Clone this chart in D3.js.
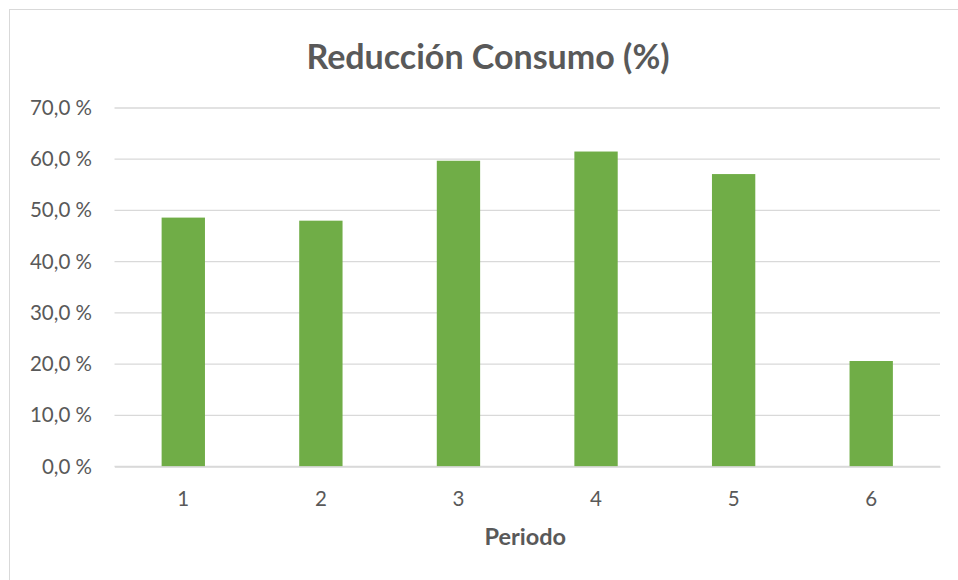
<!DOCTYPE html>
<html>
<head>
<meta charset="utf-8">
<script src="https://cdnjs.cloudflare.com/ajax/libs/d3/7.8.5/d3.min.js"></script>
<style>
  body { margin: 0; background: #fff; }
  text { font-family: Lato, "Open Sans", sans-serif; fill: #595959; }
</style>
</head>
<body>
<div class="graph"></div>
<script>
var periods = ["1", "2", "3", "4", "5", "6"];
var reduction = [48.6, 48.0, 59.7, 61.5, 57.1, 20.6];
var yTicks = [0, 10, 20, 30, 40, 50, 60, 70];

var width = 958,
    height = 580;

var margin = { left: 114.5, right: 18, top: 108, bottom: 113.5 };

var svg = d3.select(".graph").append("svg")
    .attr("width", width)
    .attr("height", height);

// chart frame
svg.append("rect")
    .attr("x", 9.5)
    .attr("y", 9.5)
    .attr("width", 970)
    .attr("height", 600)
    .attr("fill", "none")
    .attr("stroke", "#d9d9d9");

var x = d3.scaleBand()
    .domain(periods)
    .range([margin.left, width - margin.right])
    .paddingInner(0.685)
    .paddingOuter(0.3425);

var y = d3.scaleLinear()
    .domain([0, 70])
    .range([height - margin.bottom, margin.top]);

// gridlines
svg.append("g")
    .selectAll("line")
    .data(yTicks)
    .enter().append("line")
    .attr("x1", margin.left)
    .attr("x2", width - margin.right)
    .attr("y1", function(d) { return y(d); })
    .attr("y2", function(d) { return y(d); })
    .attr("stroke", "#d9d9d9")
    .attr("stroke-width", 1.3);

// y axis labels
var yAxis = d3.axisLeft(y)
    .tickValues(yTicks)
    .tickSize(0)
    .tickPadding(0)
    .tickFormat(function(d) { return d.toFixed(1).replace(".", ",") + " %"; });

svg.append("g")
    .attr("transform", "translate(92,0)")
    .call(yAxis)
    .call(function(g) { g.select(".domain").remove(); })
    .selectAll("text")
    .style("font-size", "20.5px")
    .style("font-family", "Lato, sans-serif")
    .attr("fill", "#595959");

// bars
svg.append("g")
    .selectAll("rect")
    .data(reduction)
    .enter().append("rect")
    .attr("x", function(d, i) { return x(periods[i]); })
    .attr("width", x.bandwidth())
    .attr("y", function(d) { return y(d); })
    .attr("height", function(d) { return y(0) - y(d); })
    .attr("fill", "#70ad47");

// x axis
var xAxis = d3.axisBottom(x)
    .tickSize(0)
    .tickPadding(0);

svg.append("g")
    .attr("transform", "translate(0," + y(0) + ")")
    .call(xAxis)
    .call(function(g) {
        g.select(".domain")
            .attr("stroke", "#d9d9d9")
            .attr("stroke-width", 1.3);
    })
    .selectAll("text")
    .attr("y", 39.5)
    .attr("dy", 0)
    .style("font-size", "20.5px")
    .style("font-family", "Lato, sans-serif")
    .attr("fill", "#595959");

// titles
svg.append("text")
    .attr("x", 488)
    .attr("y", 69)
    .attr("text-anchor", "middle")
    .style("font-size", "34px")
    .style("font-weight", "bold")
    .text("Reducción Consumo (%)");

svg.append("text")
    .attr("x", (margin.left + width - margin.right) / 2 - 2)
    .attr("y", 545)
    .attr("text-anchor", "middle")
    .style("font-size", "23.5px")
    .style("font-weight", "bold")
    .text("Periodo");
</script>
</body>
</html>
